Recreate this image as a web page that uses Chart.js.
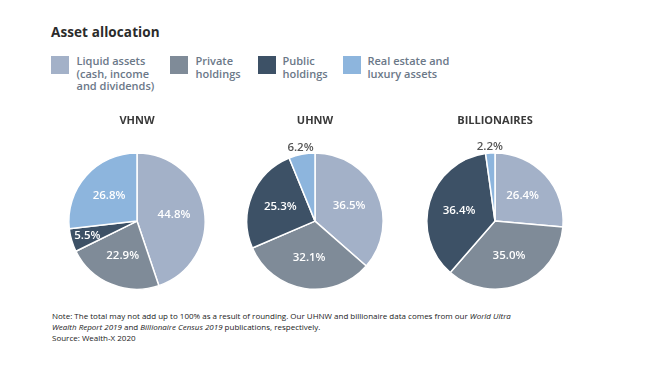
<!DOCTYPE html>
<html><head><meta charset="utf-8">
<script src="https://cdn.jsdelivr.net/npm/chart.js@4"></script>
<style>
body{margin:0;background:#fff;width:664px;height:384px;position:relative;font-family:"Open Sans",sans-serif;overflow:hidden}
#title{position:absolute;left:51px;top:23px;font-size:13.5px;font-weight:700;color:#2b2b2b;letter-spacing:0.1px}
.sw{position:absolute;top:56px;width:18px;height:18px}
.lt{position:absolute;top:55px;font-size:11px;line-height:12.5px;font-weight:600;color:#6b7888}
canvas{position:absolute;top:110px}
#note{position:absolute;left:52px;top:310px;font-size:8px;line-height:11px;color:#222;font-weight:500}
</style></head><body>
<div id="title">Asset allocation</div>
<div id="legend"></div>
<canvas id="c0" width="180" height="190" style="left:47px"></canvas>
<canvas id="c1" width="180" height="190" style="left:225px"></canvas>
<canvas id="c2" width="180" height="190" style="left:405px"></canvas>
<div id="note">Note: The total may not add up to 100% as a result of rounding. Our UHNW and billionaire data comes from our <i>World Ultra<br>Wealth Report 2019</i> and <i>Billionaire Census 2019</i> publications, respectively.<br>Source: Wealth-X 2020</div>
<script>
const categories = ['Liquid assets (cash, income and dividends)', 'Private holdings', 'Public holdings', 'Real estate and luxury assets'];
const legendLines = [['Liquid assets', '(cash, income', 'and dividends)'], ['Private', 'holdings'], ['Public', 'holdings'], ['Real estate and', 'luxury assets']];
const groups = ['VHNW', 'UHNW', 'BILLIONAIRES'];
const vhnwValues = [44.8, 22.9, 5.5, 26.8];
const uhnwValues = [36.5, 32.1, 25.3, 6.2];
const billionairesValues = [26.4, 35.0, 36.4, 2.2];
const colors = ['#a3b1c8', '#7f8b98', '#3d5166', '#8db5dd'];

const legendPos = [[51, 76.5], [170, 195.5], [258, 282.5], [343, 367.5]];
const lg = document.getElementById('legend');
legendLines.forEach((lines, i) => {
  const s = document.createElement('div'); s.className = 'sw'; s.style.left = legendPos[i][0] + 'px'; s.style.background = colors[i]; lg.appendChild(s);
  const t = document.createElement('div'); t.className = 'lt'; t.style.left = legendPos[i][1] + 'px'; t.innerHTML = lines.join('<br>'); lg.appendChild(t);
});

const labelPlugin = {
  id: 'sliceLabels',
  afterDatasetsDraw(chart, args, opts) {
    const ctx = chart.ctx;
    const meta = chart.getDatasetMeta(0);
    const vals = chart.data.datasets[0].data;
    ctx.save();
    ctx.font = '600 11.5px "Open Sans"';
    ctx.textAlign = 'center';
    ctx.textBaseline = 'middle';
    meta.data.forEach((arc, i) => {
      const p = arc.getProps(['x', 'y', 'startAngle', 'endAngle', 'outerRadius'], true);
      const mid = (p.startAngle + p.endAngle) / 2;
      let f = 0.55, col = '#ffffff';
      if ((opts.outside || []).includes(i)) { f = 1.1; col = '#555555'; }
      else if (vals[i] < 8) { f = 0.76; }
      const x = p.x + Math.cos(mid) * p.outerRadius * f;
      const y = p.y + Math.sin(mid) * p.outerRadius * f;
      ctx.fillStyle = col;
      ctx.fillText(vals[i].toFixed(1) + '%', x, y);
    });
    ctx.restore();
  }
};

const allValues = [vhnwValues, uhnwValues, billionairesValues];
const outsides = [[], [3], [3]];
allValues.forEach((vals, k) => {
  new Chart(document.getElementById('c' + k), {
    type: 'pie',
    data: { labels: categories, datasets: [{ data: vals, backgroundColor: colors, borderColor: '#ffffff', borderWidth: 1.5 }] },
    options: {
      responsive: false, animation: false, devicePixelRatio: 1,
      layout: { padding: { left: 21, right: 21, top: 0, bottom: 10 } },
      plugins: {
        legend: { display: false }, tooltip: { enabled: false },
        title: { display: true, text: groups[k], color: '#3a3a3a', font: { family: '"Open Sans"', size: 11, weight: '700' }, padding: { top: 4, bottom: 25 } },
        sliceLabels: { outside: outsides[k] }
      }
    },
    plugins: [labelPlugin]
  });
});
</script>
</body></html>
